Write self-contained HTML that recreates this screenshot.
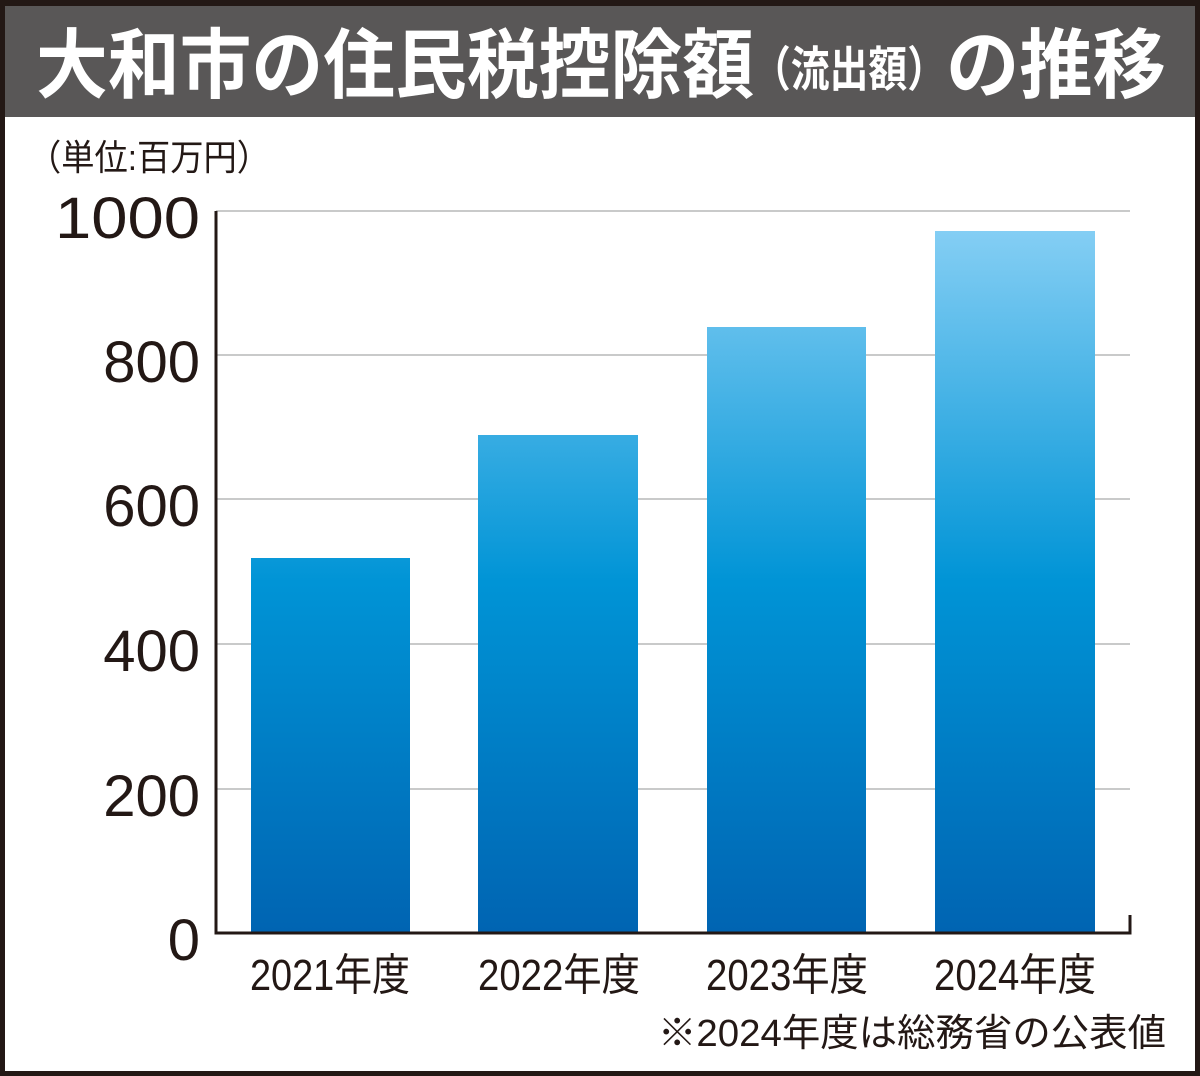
<!DOCTYPE html>
<html><head><meta charset="utf-8"><style>
html,body{margin:0;padding:0;background:#fff}
svg{display:block}
text{font-family:"Liberation Sans","Noto Sans CJK JP",sans-serif}
</style></head><body>
<svg width="1200" height="1076" viewBox="0 0 1200 1076" xmlns="http://www.w3.org/2000/svg">
<defs>
<linearGradient id="g" gradientUnits="userSpaceOnUse" x1="0" y1="231" x2="0" y2="933">
<stop offset="0" stop-color="#84cef4"/>
<stop offset="0.5" stop-color="#0094d6"/>
<stop offset="1" stop-color="#0064b2"/>
</linearGradient>
</defs>
<rect x="0" y="0" width="1200" height="1076" fill="#231815"/>
<rect x="5" y="6" width="1190" height="1065" fill="#fff"/>
<rect x="5" y="6" width="1190" height="111" fill="#595757"/>
<g fill="#fff" font-weight="bold">
<text x="36" y="92" font-size="76" textLength="718" lengthAdjust="spacingAndGlyphs">大和市の住民税控除額</text>
<text x="752" y="86" font-size="48" textLength="194" lengthAdjust="spacingAndGlyphs">（流出額）</text>
<text x="946" y="92" font-size="76" textLength="220" lengthAdjust="spacingAndGlyphs">の推移</text>
</g>
<text x="28" y="170" font-size="36" fill="#231815" textLength="242" lengthAdjust="spacingAndGlyphs">（単位:百万円）</text>
<g stroke="#c9caca" stroke-width="2">
<line x1="216" y1="211" x2="1130" y2="211"/>
<line x1="216" y1="355" x2="1130" y2="355"/>
<line x1="216" y1="499" x2="1130" y2="499"/>
<line x1="216" y1="644" x2="1130" y2="644"/>
<line x1="216" y1="789" x2="1130" y2="789"/>
</g>
<g fill="url(#g)">
<rect x="251" y="558" width="159" height="375"/>
<rect x="478" y="435" width="160" height="498"/>
<rect x="707" y="327" width="159" height="606"/>
<rect x="935" y="231" width="160" height="702"/>
</g>
<path d="M216 211 V933 H1130 V915" fill="none" stroke="#231815" stroke-width="3"/>
<g font-size="58" fill="#231815" text-anchor="end">
<text x="200" y="238" textLength="145" lengthAdjust="spacingAndGlyphs">1000</text>
<text x="200" y="382">800</text>
<text x="200" y="526">600</text>
<text x="200" y="671">400</text>
<text x="200" y="816">200</text>
<text x="200" y="960">0</text>
</g>
<g font-size="44" fill="#231815">
<text x="250" y="990" textLength="160" lengthAdjust="spacingAndGlyphs">2021年度</text>
<text x="478" y="990" textLength="162" lengthAdjust="spacingAndGlyphs">2022年度</text>
<text x="706" y="990" textLength="162" lengthAdjust="spacingAndGlyphs">2023年度</text>
<text x="934" y="990" textLength="162" lengthAdjust="spacingAndGlyphs">2024年度</text>
</g>
<text x="658" y="1046" font-size="38" fill="#231815" textLength="508" lengthAdjust="spacingAndGlyphs">※2024年度は総務省の公表値</text>
</svg>
</body></html>
